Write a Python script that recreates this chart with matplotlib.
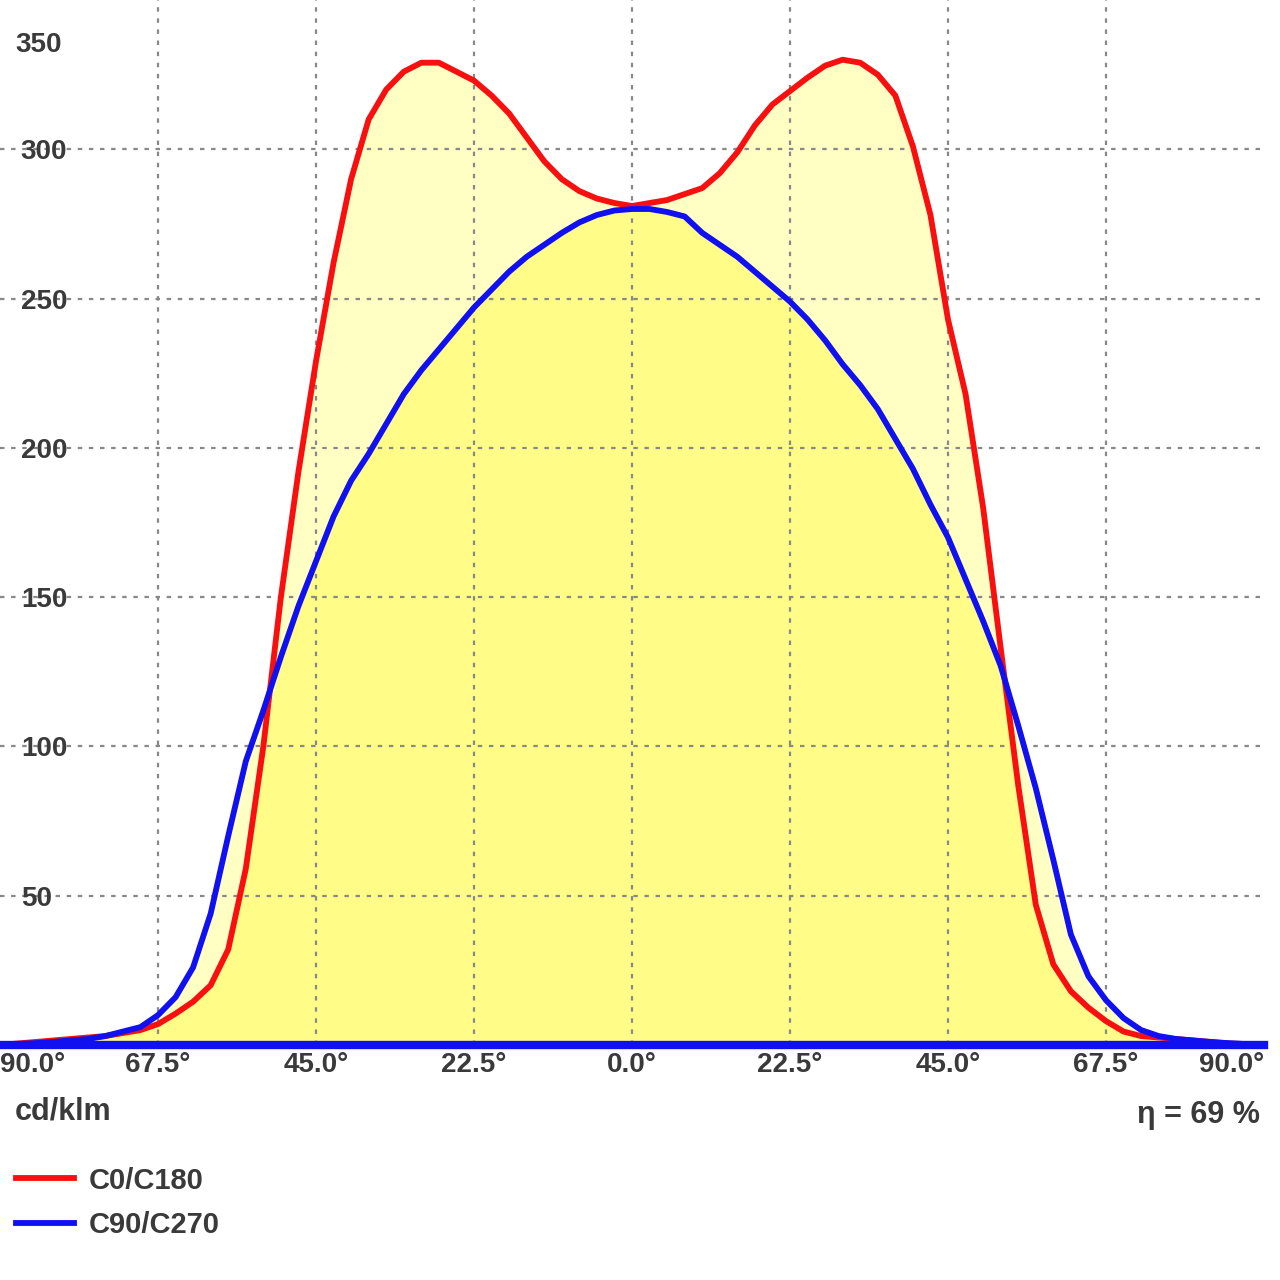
from matplotlib import pyplot as plt
import numpy as np

# angles in degrees, -90 .. 90 step 2.5
angles = np.arange(-90, 90.01, 2.5)

# C0/C180 plane, cd/klm
c0_c180 = [0, 0.5, 1, 1.5, 2, 2.5, 3, 4, 5, 7,
           10.5, 14.5, 20, 32, 59, 100, 150, 192, 229, 262,
           290, 310, 320, 326, 329, 329, 326, 323, 318, 312,
           304, 296, 290, 286, 283.5, 282, 281, 282, 283, 285,
           287, 292, 299, 308, 315, 319.5, 324, 328, 330, 329,
           325, 318, 301, 278, 243, 218, 180, 133, 87, 47,
           27, 18, 12.5, 8, 4.5, 3, 2.5, 2, 1.5, 1,
           0.5, 0.3, 0]

# C90/C270 plane, cd/klm
c90_c270 = [0, 0.3, 0.6, 1, 1.5, 2, 3, 4.5, 6, 10,
            16, 26, 44, 70, 95, 112, 130, 147, 162, 177,
            189, 198, 208, 218, 226, 233, 240, 247, 253, 259,
            264, 268, 272, 275.5, 278, 279.5, 280, 280, 279, 277.5,
            272, 268, 264, 259, 254, 249, 243, 236, 228, 221,
            213, 203, 193, 181, 170, 156, 142, 127, 107, 86,
            62, 37, 23, 15, 9, 5, 3, 2, 1.5, 1,
            0.6, 0.3, 0]

x_ticks = [-90, -67.5, -45, -22.5, 0, 22.5, 45, 67.5, 90]
x_labels = ["90.0°", "67.5°", "45.0°", "22.5°", "0.0°", "22.5°", "45.0°", "67.5°", "90.0°"]
y_ticks = [50, 100, 150, 200, 250, 300]

font = ['Liberation Sans Narrow', 'Liberation Sans', 'DejaVu Sans']
txt = '#3a3a3a'

red = np.array(c0_c180)
blue = np.array(c90_c270)

fig = plt.figure(figsize=(12.8, 12.8), dpi=100)
ax = fig.add_axes([0.0, 0.1836, 0.9875, 0.8164])

ax.fill_between(angles, 0, np.maximum(red, blue), color='#FFFFC4', lw=0)
ax.fill_between(angles, 0, np.minimum(red, blue), color='#FFFC88', lw=0)
ax.plot(angles, red, color='#F81010', lw=4.2, label='C0/C180', solid_joinstyle='round')
ax.plot(angles, blue, color='#1010F0', lw=4.2, label='C90/C270', solid_joinstyle='round')
ax.axhline(0, color='#1010F0', lw=6, clip_on=False)

ax.set_xlim(-90, 90)
ax.set_ylim(0, 350)
for s in ax.spines.values():
    s.set_visible(False)

ax.set_xticks(x_ticks)
ax.set_xticklabels(x_labels)
ax.set_yticks(y_ticks)
ax.grid(True, color='#888888', linestyle=(0, (2, 3)), lw=1.6)
gl = ax.xaxis.get_gridlines()
gl[0].set_visible(False)
gl[-1].set_visible(False)
ax.tick_params(length=0)
ax.tick_params(axis='x', pad=5)
ax.tick_params(axis='y', pad=-15)
for lab in ax.get_yticklabels():
    lab.set_horizontalalignment('left')
for lab in ax.get_xticklabels() + ax.get_yticklabels():
    lab.set_fontfamily(font)
    lab.set_fontsize(20)
    lab.set_fontweight('bold')
    lab.set_color(txt)
xl = ax.get_xticklabels()
xl[0].set_horizontalalignment('left')
xl[-1].set_horizontalalignment('right')

ax.annotate('350', xy=(0, 350), xycoords=('axes fraction', 'data'),
            xytext=(15, -45), textcoords='offset pixels', va='center', ha='left',
            family=font, fontsize=20, fontweight='bold', color=txt)

fig.text(15 / 1280, 1 - 1112 / 1280, 'cd/klm', ha='left', va='center',
         family=font, fontsize=22, fontweight='bold', color=txt)
fig.text(1260 / 1280, 1 - 1115 / 1280, 'η = 69 %', ha='right', va='center',
         family=font, fontsize=22, fontweight='bold', color=txt)

leg = fig.legend(loc='upper left', bbox_to_anchor=(4 / 1280, 1 - 1155 / 1280), frameon=False,
                 handlelength=2.0, handletextpad=0.5, labelspacing=0.55, borderaxespad=0,
                 prop={'family': font, 'size': 21, 'weight': 'bold'})
for t in leg.get_texts():
    t.set_color(txt)

fig.savefig('out.png')
